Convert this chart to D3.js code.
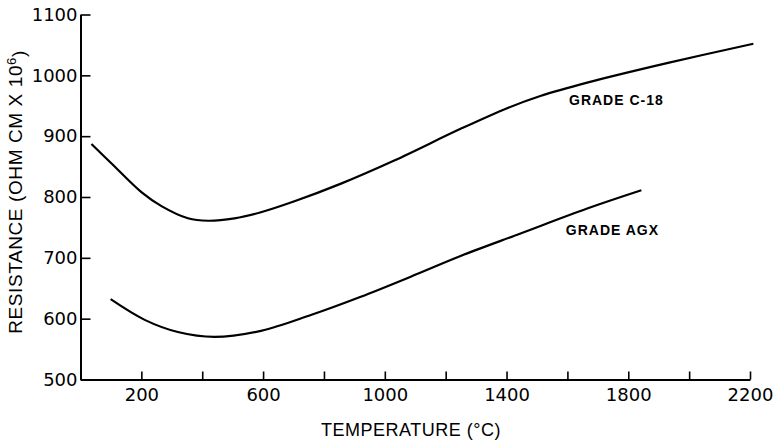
<!DOCTYPE html>
<html>
<head>
<meta charset="utf-8">
<script src="https://cdn.jsdelivr.net/npm/d3@7"></script>
<style>
  html, body { margin: 0; padding: 0; background: #fff; }
  svg { display: block; }
  text { font-family: "Liberation Sans", Arial, sans-serif; fill: #000; }
</style>
</head>
<body>
<svg id="chart" width="782" height="441"></svg>
<script>
// Data (temperature °C, resistance ohm·cm ×10^6)
const c18Temp = [36, 102, 200, 266, 353, 419, 506, 593, 703, 856, 1031, 1249, 1402, 1511, 1665, 1927, 2211];
const c18Res  = [887, 855, 808, 785, 765, 761, 765, 775, 793, 822, 860, 912, 946, 966, 988, 1020, 1052];
const agxTemp = [99, 211, 320, 440, 593, 757, 921, 1085, 1249, 1446, 1665, 1843];
const agxRes  = [632, 598, 578, 570, 580, 606, 636, 669, 703, 740, 781, 811];
const xTicks = [200, 400, 600, 800, 1000, 1200, 1400, 1600, 1800, 2000, 2200];
const xTickLabels = [200, 600, 1000, 1400, 1800, 2200];
const yTicks = [500, 600, 700, 800, 900, 1000, 1100];
const seriesNames = ["GRADE C-18", "GRADE AGX"];

const svg = d3.select("#chart");
const x = d3.scaleLinear().domain([0, 2200]).range([80.5, 750]);
const y = d3.scaleLinear().domain([500, 1100]).range([379.5, 14.5]);

const tickFont = "DejaVu Sans, Liberation Sans, sans-serif";

// X axis
const xAxis = d3.axisBottom(x)
  .tickValues(xTicks)
  .tickSizeInner(-8)
  .tickSizeOuter(0)
  .tickPadding(9)
  .tickFormat(d => xTickLabels.includes(d) ? d3.format("d")(d) : "");
const gx = svg.append("g").attr("transform", `translate(0,${y(500)})`).call(xAxis);
gx.select(".domain").attr("stroke", "#000").attr("stroke-width", 2);
gx.selectAll(".tick line").attr("stroke", "#000").attr("stroke-width", 1.6);
gx.selectAll(".tick text").style("font-size", "18px").style("font-family", tickFont).attr("fill", "#000");

// Y axis
const yAxis = d3.axisLeft(y)
  .tickValues(yTicks)
  .tickSizeInner(-10)
  .tickSizeOuter(0)
  .tickPadding(3)
  .tickFormat(d3.format("d"));
const gy = svg.append("g").attr("transform", `translate(${x(0)},0)`).call(yAxis);
gy.select(".domain").attr("stroke", "#000").attr("stroke-width", 2);
gy.selectAll(".tick line").attr("stroke", "#000").attr("stroke-width", 1.6);
gy.selectAll(".tick text").style("font-size", "18px").style("font-family", tickFont).attr("fill", "#000");

// Curves
const line = d3.line().x(d => x(d[0])).y(d => y(d[1])).curve(d3.curveCatmullRom.alpha(0.5));
svg.append("path").datum(d3.zip(c18Temp, c18Res))
  .attr("d", line).attr("fill", "none").attr("stroke", "#000").attr("stroke-width", 2.2);
svg.append("path").datum(d3.zip(agxTemp, agxRes))
  .attr("d", line).attr("fill", "none").attr("stroke", "#000").attr("stroke-width", 2.2);

// Series labels
svg.append("text").attr("x", x(1761)).attr("y", y(959)).attr("text-anchor", "middle")
  .attr("dominant-baseline", "central")
  .style("font-size", "14px").style("font-weight", "bold").style("letter-spacing", "1px")
  .text(seriesNames[0]);
svg.append("text").attr("x", x(1748)).attr("y", y(746)).attr("text-anchor", "middle")
  .attr("dominant-baseline", "central")
  .style("font-size", "14px").style("font-weight", "bold").style("letter-spacing", "1px")
  .text(seriesNames[1]);

// Axis titles
svg.append("text").attr("x", 411).attr("y", 436).attr("text-anchor", "middle")
  .style("font-size", "18px").style("letter-spacing", "0.5px").text("TEMPERATURE (°C)");

const yt = svg.append("text").attr("transform", "translate(22,192) rotate(-90)")
  .attr("text-anchor", "middle").style("font-size", "19px").style("letter-spacing", "0.6px");
yt.append("tspan").text("RESISTANCE (OHM CM X 10");
yt.append("tspan").attr("dy", "-0.45em").style("font-size", "13px").text("6");
yt.append("tspan").attr("dy", "0.45em").text(")");
</script>
</body>
</html>
